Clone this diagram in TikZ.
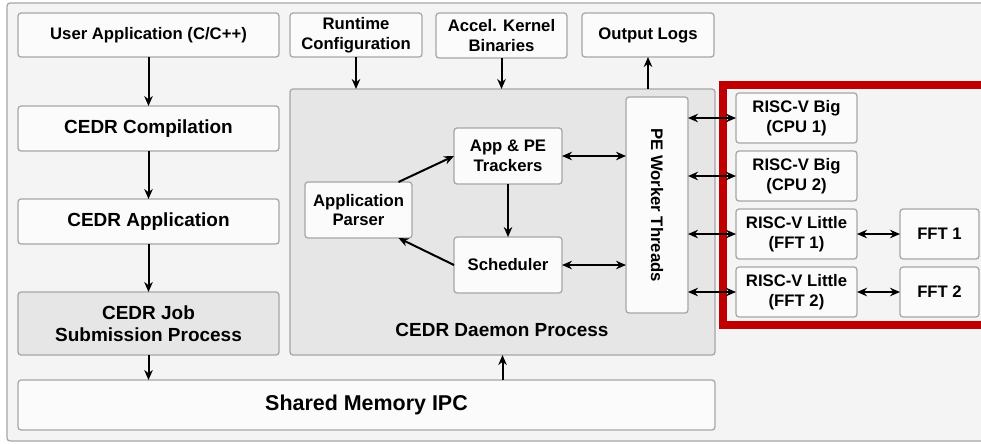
\documentclass[tikz,border=0pt]{standalone}
\usepackage{fontspec}
\setmainfont{Liberation Sans}
\usepackage{tikz}
\usetikzlibrary{arrows.meta, positioning}

\definecolor{framegray}{HTML}{A6A6A6}
\definecolor{bgfill}{HTML}{F4F4F4}
\definecolor{boxfill}{HTML}{FBFBFB}
\definecolor{procfill}{HTML}{E6E6E6}
\definecolor{hetred}{HTML}{C00000}

\begin{document}
\begin{tikzpicture}[x=0.2mm,y=-0.2mm,>={Stealth[length=2mm,width=1.7mm]},
        blk/.style={draw=framegray,fill=boxfill,line width=0.25mm,rounded corners=0.6mm,
                    align=center,inner sep=0pt,outer sep=0pt,font=\fontsize{9.5}{11.3}\selectfont\bfseries},
        bigblk/.style={blk,font=\fontsize{10.8}{12.5}\selectfont\bfseries},
        proc/.style={draw=framegray,fill=procfill,line width=0.25mm,rounded corners=0.6mm,inner sep=0pt,outer sep=0pt},
        link/.style={->,line width=0.4mm},
        both/.style={<->,line width=0.4mm}]

  \useasboundingbox (0,0) rectangle (981,443);
  \fill[bgfill,draw=framegray,line width=0.25mm,rounded corners=0.6mm] (7,3) rectangle (1000,441);

  % inputs and outputs
  \node[blk, minimum width=52.2mm, minimum height=8.8mm] (user) at (148.5,35) {User Application (C/C++)};
  \node[blk, minimum width=26.4mm, minimum height=8.8mm] (rt)   at (356,35)   {Runtime\\Configuration};
  \node[blk, minimum width=26.2mm, minimum height=9mm]   (acc)  at (501.5,35.5) {Accel. Kernel\\Binaries};
  \node[blk, minimum width=26.4mm, minimum height=8.8mm] (logs) at (648,35)   {Output Logs};

  % left column
  \node[bigblk, minimum width=52.2mm, minimum height=9mm] (comp) at (148.5,128.5) {CEDR Compilation};
  \node[bigblk, minimum width=52.2mm, minimum height=9mm] (app)  at (148.5,221.5) {CEDR Application};
  \node[bigblk, fill=procfill, minimum width=52.2mm, minimum height=12.6mm] (job) at (148.5,323.5)
        {CEDR Job\\Submission Process};
  \node[blk, minimum width=139.4mm, minimum height=10mm, font=\fontsize{12.2}{14}\selectfont\bfseries]
        (ipc) at (366.5,405) {Shared Memory IPC};

  % daemon
  \node[proc, minimum width=85mm, minimum height=53.2mm] (daemon) at (502.5,222) {};
  \node[font=\fontsize{10.8}{12.5}\selectfont\bfseries] (dlbl) at (502,330) {CEDR Daemon Process};
  \node[blk, minimum width=21.4mm, minimum height=11.2mm] (parser) at (358.5,210) {Application\\Parser};
  \node[blk, minimum width=21.6mm, minimum height=11.2mm] (track)  at (508,156)   {App \& PE\\Trackers};
  \node[blk, minimum width=21.6mm, minimum height=11.2mm] (sched)  at (508,265)   {Scheduler};
  \node[blk, minimum width=12.4mm, minimum height=43.2mm] (pe)     at (657,205)   {};
  \node[font=\fontsize{9.5}{11.3}\selectfont\bfseries, rotate=-90] (pelbl) at (pe.center) {PE Worker Threads};

  % processing elements
  \draw[hetred, line width=1.6mm] (1000,84.5) -- (723,84.5) -- (723,325) -- (1000,325);
  \node[blk, minimum width=24.2mm, minimum height=10mm] (cpu1) at (796.5,118) {RISC-V Big\\(CPU 1)};
  \node[blk, minimum width=24.2mm, minimum height=10mm, below=1.6mm of cpu1] (cpu2) {RISC-V Big\\(CPU 2)};
  \node[blk, minimum width=24.2mm, minimum height=10mm, below=1.6mm of cpu2] (lit1) {RISC-V Little\\(FFT 1)};
  \node[blk, minimum width=24.2mm, minimum height=10mm, below=1.6mm of lit1] (lit2) {RISC-V Little\\(FFT 2)};
  \node[blk, minimum width=15.8mm, minimum height=10mm, right=8.6mm of lit1] (fft1) {FFT 1};
  \node[blk, minimum width=15.8mm, minimum height=10mm, right=8.6mm of lit2] (fft2) {FFT 2};

  % connectors
  \draw[link] (user) -- (comp);
  \draw[link] (comp) -- (app);
  \draw[link] (app) -- (job);
  \draw[link] (job.south) -- (job.south |- ipc.north);
  \draw[link] (rt.south) -- (rt.south |- daemon.north);
  \draw[link] (acc.south) -- (acc.south |- daemon.north);
  \draw[link] (daemon.north -| logs.south) -- (logs.south);
  \draw[link] (ipc.north -| daemon.south) -- (daemon.south);
  \draw[link] (parser.35) -- (track.west);
  \draw[link] (sched.west) -- (parser.-35);
  \draw[link] (track) -- (sched);
  \draw[both] (track.east) -- (track.east -| pe.west);
  \draw[both] (sched.east) -- (sched.east -| pe.west);
  \foreach \pu in {cpu1,cpu2,lit1,lit2}
    \draw[both] (\pu.west -| pe.east) -- (\pu.west);
  \draw[both] (lit1) -- (fft1);
  \draw[both] (lit2) -- (fft2);
\end{tikzpicture}
\end{document}
